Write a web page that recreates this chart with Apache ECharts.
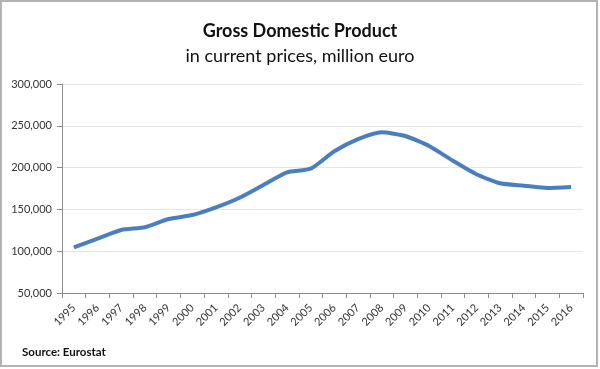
<!DOCTYPE html>
<html>
<head>
<meta charset="utf-8">
<script src="https://cdn.jsdelivr.net/npm/echarts@6/dist/echarts.min.js"></script>
<style>
html,body{margin:0;padding:0;background:#fff;}
#c{width:600px;height:369px;}
</style>
</head>
<body>
<div id="c"></div>
<script>
const years = ['1995','1996','1997','1998','1999','2000','2001','2002','2003','2004','2005','2006','2007','2008','2009','2010','2011','2012','2013','2014','2015','2016'];
const gdp = [104700,115000,125400,128600,138500,143300,152500,164000,179200,194400,198700,219500,234000,242200,237800,225800,208300,192000,181200,178400,175600,176800];
const yTicks = [50000,100000,150000,200000,250000,300000];

const chart = echarts.init(document.getElementById('c'), null, {renderer:'canvas'});
const FONT = 'Lato';
chart.setOption({
  backgroundColor:'#ffffff',
  animation:false,
  title:[
    {text:'Gross Domestic Product', left:'center', top:17, textStyle:{fontFamily:FONT, fontWeight:'bold', fontSize:18, color:'#111'}},
    {text:'in current prices, million euro', left:'center', top:42, textStyle:{fontFamily:FONT, fontWeight:'normal', fontSize:18, color:'#111'}},
    {text:'Source: Eurostat', left:17, top:341, textStyle:{fontFamily:FONT, fontWeight:'bold', fontSize:11.5, color:'#111'}}
  ],
  graphic:[
    {type:'rect', shape:{x:1, y:1, width:596, height:365}, style:{fill:null, stroke:'#b3b3b3', lineWidth:2}, silent:true, z:100}
  ],
  grid:{left:62, right:17, top:84, bottom:76},
  xAxis:{
    type:'category',
    data:years,
    boundaryGap:true,
    axisLine:{lineStyle:{color:'#8c8c8c', width:1}},
    axisTick:{show:true, alignWithLabel:false, length:5, lineStyle:{color:'#8c8c8c'}},
    axisLabel:{rotate:45, interval:0, margin:13, fontFamily:FONT, fontSize:11, color:'#333'},
    splitLine:{show:false}
  },
  yAxis:{
    type:'value',
    min:yTicks[0], max:yTicks[yTicks.length-1], interval:50000,
    axisLine:{show:true, lineStyle:{color:'#8c8c8c', width:1}},
    axisTick:{show:true, length:5, lineStyle:{color:'#8c8c8c'}},
    axisLabel:{margin:10, fontFamily:FONT, fontSize:11, color:'#333',
      formatter:v=>v.toLocaleString('en-US')},
    splitLine:{show:true, lineStyle:{color:'#e6e6e6', width:1}}
  },
  series:[{
    type:'line',
    data:gdp,
    smooth:0.2,
    symbol:'none',
    lineStyle:{color:'#4a7ebf', width:4}
  }]
});
</script>
</body>
</html>
